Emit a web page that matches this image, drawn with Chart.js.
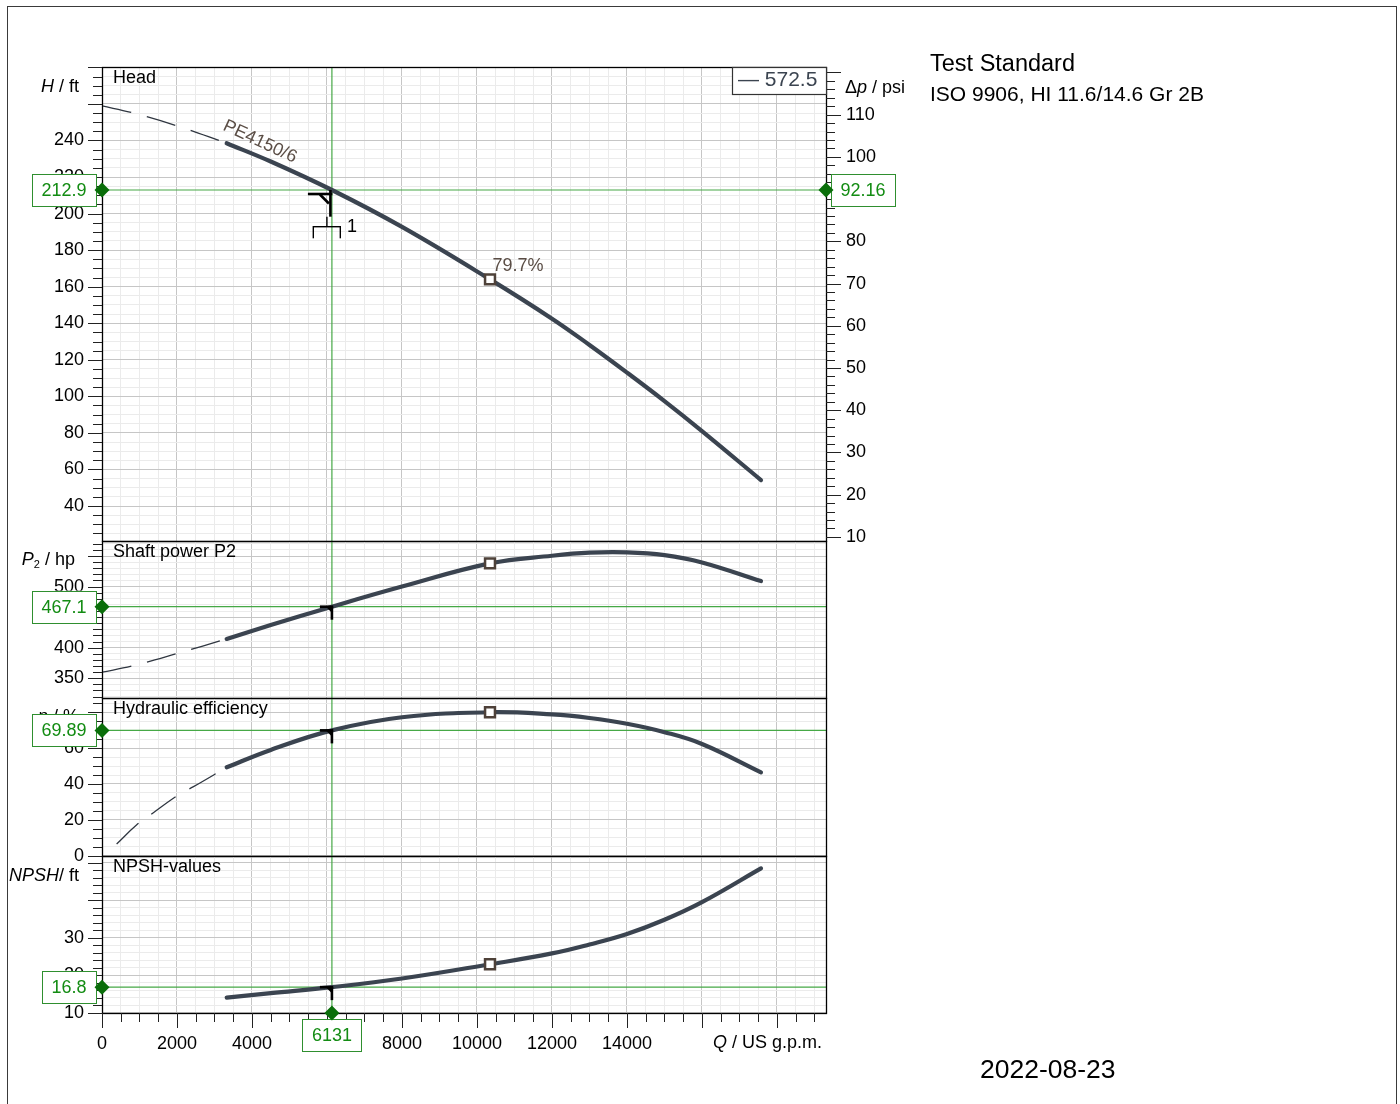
<!DOCTYPE html>
<html>
<head>
<meta charset="utf-8">
<title>PE4150/6</title>
<script src="https://cdn.jsdelivr.net/npm/chart.js@4/dist/chart.umd.min.js"></script>
<style>
  body { margin: 0; background: #fff; font-family: "Liberation Sans", Arial, sans-serif; }
  #frame { position: absolute; left: 7px; top: 6px; width: 1388px; height: 1200px; border: 1px solid #3a3a3a; }
  canvas { position: absolute; left: 0; }
  .note { position: absolute; white-space: nowrap; color: #000; }
</style>
</head>
<body>
<div id="frame"></div>
<canvas id="head"></canvas>
<canvas id="power"></canvas>
<canvas id="eff"></canvas>
<canvas id="npsh"></canvas>
<div class="note" style="left:930px; top:52px; font-size:23.5px; line-height:23.5px">Test Standard</div>
<div class="note" style="left:930px; top:83px; font-size:21px; line-height:21px">ISO 9906, HI 11.6/14.6 Gr 2B</div>
<div class="note" style="left:980px; top:1056px; font-size:26.5px; line-height:26.5px">2022-08-23</div>
<script>
// curve points, flow in US g.p.m.
const qDash = [0, 800, 2000, 3325];
const headDash = [258.9, 255.2, 248.0, 238.5];
const powerDash = [360, 370, 390.4, 414.4];
const qEffDash = [390, 920, 1370, 2020, 2440, 3325];
const effDash = [6.5, 17.1, 24.0, 33.7, 38.5, 49.3];

const qCurve = [3325, 4500, 6131, 8000, 10347, 12000, 13000, 14000, 15000, 16000, 17573];
const head = [238.5, 228.5, 212.9, 192.7, 164.0, 142.5, 128.1, 113.0, 97.4, 81.0, 54.2];
const power = [414.4, 437, 467.1, 500, 538, 550.5, 555.5, 556, 551.5, 539.5, 509];
const eff = [49.3, 59, 69.89, 77.2, 80.0, 78.8, 76.8, 73.6, 68.9, 62.3, 46.5];
const npsh = [14.0, 15.2, 16.8, 19.1, 22.9, 25.8, 28.2, 31.0, 34.8, 39.5, 48.5];

const bepIndex = 4;            // best efficiency point, 79.7 %
const bepLabel = '79.7%';
const curveName = 'PE4150/6';
const speedLabel = '\u2014 572.5';
const duty = { q: 6131, head: 212.9, psi: 92.16, power: 467.1, eff: 69.89, npsh: 16.8 };

// tick labels
const qTicks = [0, 2000, 4000, 6000, 8000, 10000, 12000, 14000];
const headTicks = [240, 220, 200, 180, 160, 140, 120, 100, 80, 60, 40];
const psiTicks = [110, 100, 90, 80, 70, 60, 50, 40, 30, 20, 10];
const powerTicks = [500, 450, 400, 350];
const effTicks = [60, 40, 20, 0];
const npshTicks = [30, 20, 10];

Chart.defaults.font.family = '"Liberation Sans", Arial, sans-serif';
Chart.defaults.font.size = 18;
Chart.defaults.color = '#000';

const LEFT = 102, RIGHT = 826, Q_MAX = 19307, PAD = 40;
const CURVE = '#3b4450', LINE_GREEN = '#46a846', GREEN = '#138c13', DIAMOND = '#0a6e0a', MARK = '#4e4139', LABEL = '#5a4d45';
const FONT = '18px "Liberation Sans", Arial, sans-serif';
const ITALIC = 'italic 18px "Liberation Sans", Arial, sans-serif';
const SUB = '11px "Liberation Sans", Arial, sans-serif';
const PSI_PER_FT = duty.psi / duty.head;

const xy = (xs, ys) => xs.map((x, i) => ({ x, y: ys[i] }));
function steps(from, to, step) {
  const out = [];
  for (let v = from; v <= to + 1e-9; v += step) out.push({ value: +v.toFixed(6) });
  return out;
}
const isMajor = (v, m) => Math.abs(v / m - Math.round(v / m)) < 1e-6;
const gridColor = m => ctx => (ctx.tick && isMajor(ctx.tick.value, m)) ? '#c6c6c6' : '#ebebeb';

function line(ctx, x1, y1, x2, y2) {
  ctx.beginPath(); ctx.moveTo(x1, y1); ctx.lineTo(x2, y2); ctx.stroke();
}

function parts(ctx, list, x, y, align) {
  const fonts = { n: FONT, i: ITALIC, s: SUB };
  let w = 0;
  list.forEach(([t, f]) => { ctx.font = fonts[f]; w += ctx.measureText(t).width; });
  let cx = align === 'right' ? x - w : x;
  ctx.textAlign = 'left'; ctx.textBaseline = 'middle'; ctx.fillStyle = '#000';
  list.forEach(([t, f]) => {
    ctx.font = fonts[f];
    ctx.fillText(t, cx, f === 's' ? y + 5 : y);
    cx += ctx.measureText(t).width;
  });
}

function greenBox(ctx, text, left, top) {
  ctx.font = FONT;
  const w = ctx.measureText(text).width + 19, h = 32;
  ctx.fillStyle = '#fff';
  ctx.fillRect(left, top, w, h);
  ctx.strokeStyle = '#2f8f2f'; ctx.lineWidth = 1;
  ctx.strokeRect(Math.round(left) + 0.5, Math.round(top) + 0.5, Math.round(w), h);
  ctx.fillStyle = GREEN; ctx.textAlign = 'center'; ctx.textBaseline = 'middle';
  ctx.fillText(text, left + w / 2, top + h / 2 + 1);
  return w;
}

function diamond(ctx, x, y) {
  ctx.fillStyle = DIAMOND;
  ctx.beginPath();
  ctx.moveTo(x - 7.5, y); ctx.lineTo(x, y - 7.5); ctx.lineTo(x + 7.5, y); ctx.lineTo(x, y + 7.5);
  ctx.closePath(); ctx.fill();
}

const panels = [
  { id: 'head', top: 67, bottom: 541, min: 20.85, max: 280.2, from: 25, step: 5, major: 20,
    labels: headTicks, title: 'Head', axis: [['H', 'i'], [' / ft', 'n']], axisX: 79, axisY: 87,
    values: head, dashQ: qDash, dashV: headDash, duty: duty.head },
  { id: 'power', top: 541, bottom: 698, min: 317.7, max: 574.6, from: 320, step: 10, major: 50,
    labels: powerTicks, title: 'Shaft power P2', axis: [['P', 'i'], ['2', 's'], [' / hp', 'n']], axisX: 75, axisY: 560,
    values: power, dashQ: qDash, dashV: powerDash, duty: duty.power },
  { id: 'eff', top: 698, bottom: 856, min: -0.17, max: 87.95, from: 0, step: 5, major: 20,
    labels: effTicks, title: 'Hydraulic efficiency', axis: [['\u03b7', 'i'], [' / %', 'n']], axisX: 79, axisY: 717,
    values: eff, dashQ: qEffDash, dashV: effDash, duty: duty.eff },
  { id: 'npsh', top: 856, bottom: 1013, min: 9.9, max: 51.8, from: 10, step: 2, major: 10,
    labels: npshTicks, title: 'NPSH-values', axis: [['NPSH', 'i'], ['/ ft', 'n']], axisX: 79, axisY: 876,
    values: npsh, duty: duty.npsh, last: true }
];

function deco(p) {
  return {
    id: 'deco-' + p.id,
    beforeDatasetsDraw(chart) {
      const { ctx, chartArea: a, scales: { x, y } } = chart;
      const px = x.getPixelForValue(duty.q), py = y.getPixelForValue(p.duty);
      ctx.save();
      ctx.strokeStyle = LINE_GREEN; ctx.lineWidth = 1.2;
      line(ctx, px, a.top, px, a.bottom);
      line(ctx, a.left, py, a.right, py);
      ctx.restore();
    },
    afterDatasetsDraw(chart) {
      const { ctx, scales: { x, y } } = chart;
      const px = x.getPixelForValue(duty.q), py = y.getPixelForValue(p.duty);
      ctx.save();
      ctx.strokeStyle = '#000'; ctx.fillStyle = '#000';
      if (p.id === 'head') {
        ctx.lineWidth = 2.6;
        line(ctx, px - 24, py + 4, px + 0.5, py + 4);
        line(ctx, px - 12, py + 4.5, px - 3, py + 13.5);
        line(ctx, px - 1.5, py, px - 1.5, py + 26.7);
        ctx.lineWidth = 1.4;
        line(ctx, px - 5, py + 26.7, px - 5, py + 36.7);
        line(ctx, px - 18.6, py + 36.7, px + 8.4, py + 36.7);
        line(ctx, px - 18.6, py + 36, px - 18.6, py + 48.3);
        line(ctx, px + 8.4, py + 36, px + 8.4, py + 48.3);
        ctx.font = FONT; ctx.textAlign = 'center'; ctx.textBaseline = 'middle';
        ctx.fillText('1', px + 20, py + 37);
      } else {
        ctx.lineWidth = 2.6;
        line(ctx, px - 12, py, px + 1.3, py);
        line(ctx, px, py, px, py + 13);
        ctx.beginPath(); ctx.moveTo(px - 6, py); ctx.lineTo(px, py); ctx.lineTo(px, py + 6); ctx.closePath(); ctx.fill();
      }
      ctx.restore();
    },
    afterDraw(chart) {
      const { ctx, chartArea: a, scales } = chart;
      const x = scales.x, y = scales.y;
      ctx.save();
      // panel frame
      ctx.strokeStyle = '#000'; ctx.lineWidth = 1.3;
      ctx.strokeRect(a.left + 0.5, a.top + 0.5, a.right - a.left, a.bottom - a.top);
      // tick marks
      ctx.strokeStyle = '#222'; ctx.lineWidth = 1;
      y.ticks.forEach(t => {
        const ty = Math.round(y.getPixelForValue(t.value)) + 0.5;
        line(ctx, a.left - (isMajor(t.value, p.major) ? 14 : 9), ty, a.left, ty);
      });
      if (scales.psi) {
        scales.psi.ticks.forEach(t => {
          const ty = Math.round(scales.psi.getPixelForValue(t.value)) + 0.5;
          line(ctx, a.right, ty, a.right + (isMajor(t.value, 10) ? 15 : 9), ty);
        });
      }
      if (p.last) {
        x.ticks.forEach(t => {
          const tx = Math.round(x.getPixelForValue(t.value)) + 0.5;
          line(ctx, tx, a.bottom, tx, a.bottom + (isMajor(t.value, 2000) ? 15 : 9));
        });
      }
      // titles
      ctx.font = FONT; ctx.fillStyle = '#000'; ctx.textAlign = 'left'; ctx.textBaseline = 'middle';
      ctx.fillText(p.title, a.left + 11, a.top + 11);
      parts(ctx, p.axis, p.axisX, p.axisY - (p.top - PAD), 'right');
      if (scales.psi) parts(ctx, [['\u0394', 'n'], ['p', 'i'], [' / psi', 'n']], 845, 88 - (p.top - PAD), 'left');
      if (p.last) parts(ctx, [['Q', 'i'], [' / US g.p.m.', 'n']], 822, a.bottom + 30, 'right');

      const px = x.getPixelForValue(duty.q), py = y.getPixelForValue(p.duty);
      if (p.id === 'head') {
        // curve name and efficiency label
        ctx.save();
        ctx.translate(x.getPixelForValue(4213), y.getPixelForValue(239.3));
        ctx.rotate(25 * Math.PI / 180);
        ctx.font = FONT; ctx.fillStyle = LABEL; ctx.textAlign = 'center'; ctx.textBaseline = 'middle';
        ctx.fillText(curveName, 0, 0);
        ctx.restore();
        ctx.font = FONT; ctx.fillStyle = LABEL; ctx.textAlign = 'left'; ctx.textBaseline = 'middle';
        ctx.fillText(bepLabel, x.getPixelForValue(qCurve[bepIndex]) + 2.5, y.getPixelForValue(head[bepIndex]) - 13.5);
        // speed legend box
        ctx.fillStyle = '#fff';
        ctx.fillRect(a.right - 94, a.top, 94, 27);
        ctx.strokeStyle = '#333'; ctx.lineWidth = 1.2;
        ctx.strokeRect(a.right - 94 + 0.5, a.top + 0.5, 94, 27);
        ctx.font = '21px "Liberation Sans", Arial, sans-serif'; ctx.fillStyle = CURVE;
        ctx.fillText(speedLabel, a.right - 88, a.top + 13);
        // right value box
        greenBox(ctx, duty.psi.toFixed(2), a.right + 5, py - 16);
        diamond(ctx, a.right, py);
      }
      ctx.font = FONT;
      const txt = String(p.duty);
      const w = ctx.measureText(txt).width + 19;
      greenBox(ctx, txt, a.left - 6 - w, py - 16);
      diamond(ctx, a.left, py);
      if (p.last) {
        ctx.font = FONT;
        const wq = ctx.measureText(String(duty.q)).width + 19;
        greenBox(ctx, String(duty.q), px - wq / 2, a.bottom + 6);
        diamond(ctx, px, a.bottom);
      }
      ctx.restore();
    }
  };
}

panels.forEach(p => {
  const cv = document.getElementById(p.id);
  const padBottom = p.last ? 100 : PAD;
  cv.width = 1400;
  cv.height = p.bottom - p.top + PAD + padBottom;
  cv.style.top = (p.top - PAD) + 'px';

  const datasets = [
    { data: [{ x: qCurve[bepIndex], y: p.values[bepIndex] }], showLine: false, pointStyle: 'rect',
      pointRadius: 7, borderWidth: 2.5, borderColor: MARK, backgroundColor: '#fff' },
    { data: xy(qCurve, p.values), borderColor: CURVE, borderWidth: 4.2, pointRadius: 0,
      tension: 0.4, borderCapStyle: 'round', clip: 0 }
  ];
  if (p.dashQ) {
    datasets.push({ data: xy(p.dashQ, p.dashV), borderColor: '#2f3640', borderWidth: 1.3, pointRadius: 0,
      borderDash: [30, 16], tension: 0.4, clip: 0 });
  }

  const scales = {
    x: {
      type: 'linear', min: 0, max: Q_MAX,
      afterBuildTicks: s => { s.ticks = steps(0, 19000, 500); },
      afterFit: s => { s.height = p.last ? 40 : 0; },
      grid: { color: gridColor(2000), drawTicks: false, lineWidth: 1 },
      border: { display: false },
      ticks: { display: !!p.last, autoSkip: false, maxRotation: 0, padding: 20,
        callback: v => qTicks.includes(v) ? String(v) : '' }
    },
    y: {
      type: 'linear', position: 'left', min: p.min, max: p.max,
      afterBuildTicks: s => { s.ticks = steps(p.from, p.max, p.step); },
      afterFit: s => { s.width = 60; },
      grid: { color: gridColor(p.major), drawTicks: false, lineWidth: 1 },
      border: { display: false },
      ticks: { autoSkip: false, padding: 18, callback: v => p.labels.includes(v) ? String(v) : '' }
    }
  };
  if (p.id === 'head') {
    scales.psi = {
      type: 'linear', position: 'right', min: p.min * PSI_PER_FT, max: p.max * PSI_PER_FT,
      afterBuildTicks: s => { s.ticks = steps(10, 120, 2); },
      afterFit: s => { s.width = 60; },
      grid: { drawOnChartArea: false, drawTicks: false },
      border: { display: false },
      ticks: { autoSkip: false, padding: 20, callback: v => psiTicks.includes(v) ? String(v) : '' }
    };
  }

  new Chart(cv, {
    type: 'line',
    data: { datasets },
    options: {
      responsive: false, animation: false, devicePixelRatio: 1, events: [],
      layout: { padding: { left: LEFT - 60, right: p.id === 'head' ? 1400 - RIGHT - 60 : 1400 - RIGHT,
        top: PAD, bottom: p.last ? padBottom - 40 : PAD } },
      plugins: { legend: { display: false }, tooltip: { enabled: false } },
      scales
    },
    plugins: [deco(p)]
  });
});
</script>
</body>
</html>
